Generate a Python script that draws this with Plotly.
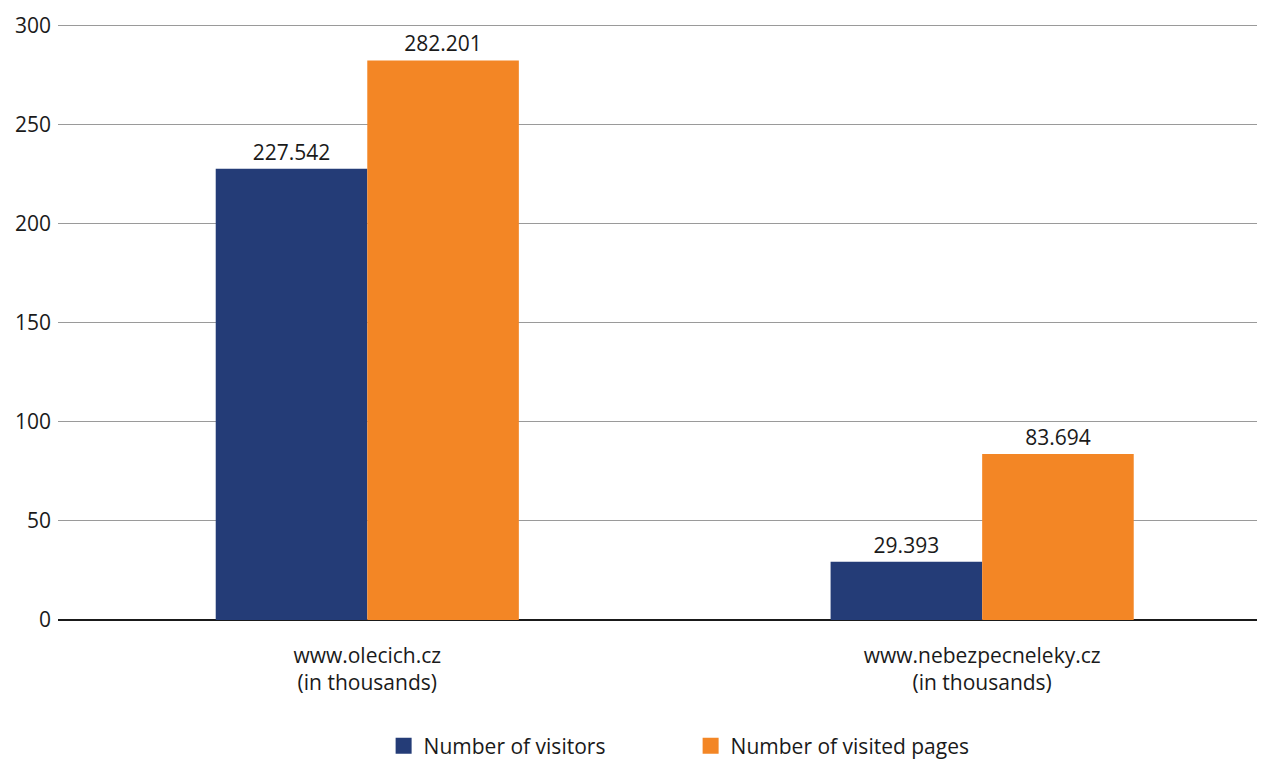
import plotly.graph_objects as go

categories = ["www.olecich.cz<br>(in thousands)", "www.nebezpecneleky.cz<br>(in thousands)"]
visitors = [227.542, 29.393]
pages = [282.201, 83.694]
series_names = ["Number of visitors", "Number of visited pages"]
colors = ["#243c77", "#f38625"]
y_ticks = [0, 50, 100, 150, 200, 250, 300]

FONT = "Open Sans"
FS = 21

fig = go.Figure()
for name, vals, col in zip(series_names, [visitors, pages], colors):
    fig.add_trace(go.Bar(
        x=categories, y=vals, name=name, marker=dict(color=col, line=dict(width=0)),
        text=[f"{v:.3f}" for v in vals], textposition="outside",
        textfont=dict(family=FONT, size=FS, color="#1a1a1a"), cliponaxis=False,
        showlegend=False,
    ))
# legend entries with larger square swatches
for name, col in zip(series_names, colors):
    fig.add_trace(go.Scatter(
        x=[None], y=[None], mode="markers", name=name,
        marker=dict(symbol="square", size=20, color=col), showlegend=True,
    ))

fig.update_layout(
    width=1265, height=760,
    margin=dict(l=50, r=0, t=16, b=148, autoexpand=False),
    paper_bgcolor="white", plot_bgcolor="white",
    barmode="group", bargap=0.507, bargroupgap=0,
    font=dict(family=FONT, size=FS, color="#1a1a1a"),
    showlegend=True,
    legend=dict(orientation="h", x=0.268, xanchor="left", y=-0.177, yanchor="top",
                font=dict(family=FONT, size=FS), entrywidth=262, entrywidthmode="pixels",
                itemwidth=30),
    xaxis=dict(type="category", range=[-0.503, 1.473], showgrid=False, showline=False,
               ticks="", tickfont=dict(family=FONT, size=FS), ticklabelstandoff=21),
    yaxis=dict(range=[0, 300.6], tickvals=y_ticks, showgrid=True, gridcolor="#9a9a9a",
               gridwidth=1, zeroline=True, zerolinecolor="#1a1a1a", zerolinewidth=1.5,
               showline=False, ticks="", tickfont=dict(family=FONT, size=FS),
               ticklabelstandoff=6),
)

fig.write_html("out.html")
